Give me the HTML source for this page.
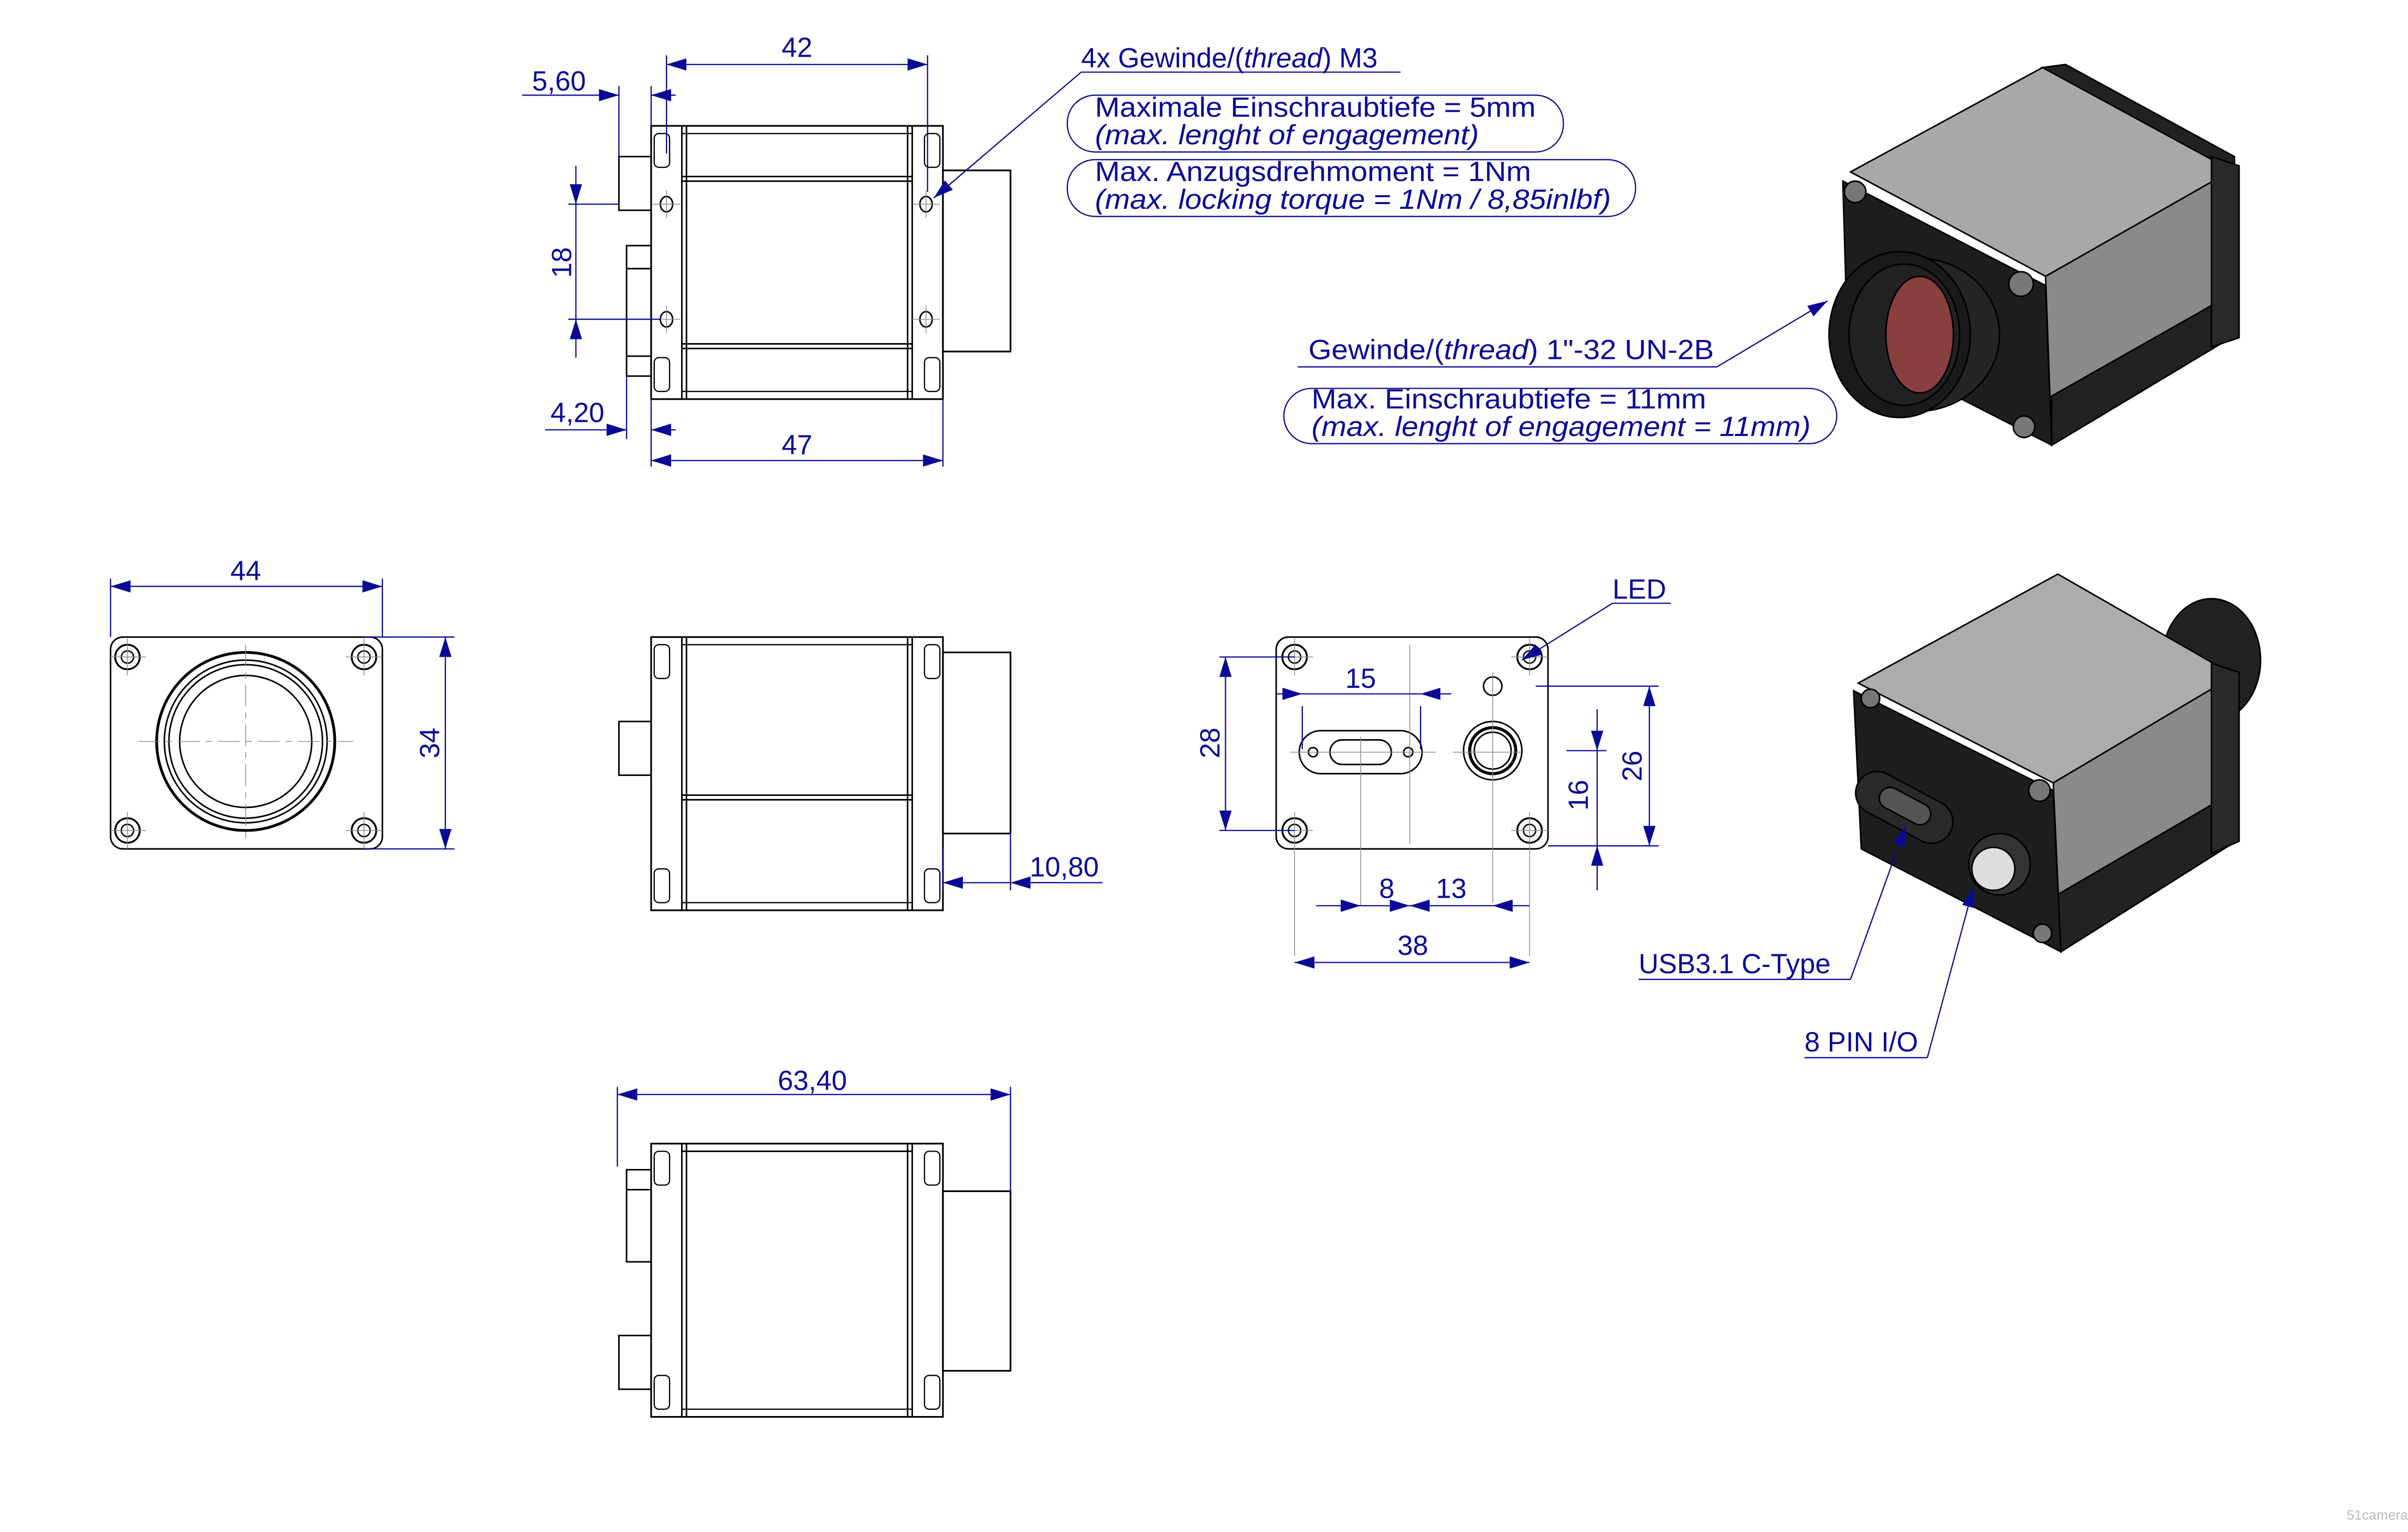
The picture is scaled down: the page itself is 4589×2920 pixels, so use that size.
<!DOCTYPE html>
<html><head><meta charset="utf-8"><style>
html,body{margin:0;padding:0;background:#fff;}
svg{display:block;}
text{font-family:"Liberation Sans",sans-serif;fill:#0a0a96;}
</style></head><body>
<svg width="4589" height="2920" viewBox="0 0 1568 998" preserveAspectRatio="none" xmlns="http://www.w3.org/2000/svg">
<defs>
<marker id="a" markerUnits="userSpaceOnUse" markerWidth="14" markerHeight="8" refX="13" refY="4" orient="auto-start-reverse"><path d="M0,0 L13,4 L0,8 z" fill="#0a0a96"/></marker>
<g id="side">
 <rect x="424" y="0" width="190" height="178" fill="none" stroke="#000" stroke-width="1.1"/>
 <line x1="444" y1="0" x2="444" y2="178" stroke="#000"/>
 <line x1="447" y1="0" x2="447" y2="178" stroke="#000"/>
 <line x1="591" y1="0" x2="591" y2="178" stroke="#000"/>
 <line x1="594" y1="0" x2="594" y2="178" stroke="#000"/>
 <line x1="444" y1="5" x2="594" y2="5" stroke="#000" stroke-width="0.8"/>
 <line x1="444" y1="173" x2="594" y2="173" stroke="#000" stroke-width="0.8"/>
 <rect x="426" y="5" width="10" height="22" rx="3" fill="none" stroke="#000" stroke-width="0.8"/>
 <rect x="426" y="151" width="10" height="22" rx="3" fill="none" stroke="#000" stroke-width="0.8"/>
 <rect x="602" y="5" width="10" height="22" rx="3" fill="none" stroke="#000" stroke-width="0.8"/>
 <rect x="602" y="151" width="10" height="22" rx="3" fill="none" stroke="#000" stroke-width="0.8"/>
</g>
<g id="screw"><circle r="8" fill="none" stroke="#000" stroke-width="1.2"/><circle r="4" fill="none" stroke="#000" stroke-width="0.9"/><path d="M-12,0H12M0,-12V12" stroke="#888" stroke-width="0.5"/></g>
</defs>
<g stroke="#000" fill="none" stroke-width="1">
<!-- top side view -->
<use href="#side" y="82"/>
<rect x="614" y="111" width="44" height="118" stroke-width="1.1"/>
<line x1="444" y1="115" x2="594" y2="115"/><line x1="444" y1="118" x2="594" y2="118"/>
<line x1="444" y1="224" x2="594" y2="224"/><line x1="444" y1="227" x2="594" y2="227"/>
<rect x="403" y="102" width="21" height="35"/>
<rect x="408" y="160" width="16" height="85"/>
<line x1="408" y1="175" x2="424" y2="175"/><line x1="408" y1="232" x2="424" y2="232"/>
<ellipse cx="434" cy="133" rx="4" ry="5"/><ellipse cx="434" cy="208" rx="4" ry="5"/>
<ellipse cx="603" cy="133" rx="4" ry="5"/><ellipse cx="603" cy="208" rx="4" ry="5"/>
<path d="M425,133h18M434,124v18M425,208h18M434,199v18M594,133h18M603,124v18M594,208h18M603,199v18" stroke="#888" stroke-width="0.5"/>
<!-- middle side view -->
<use href="#side" y="415"/>
<rect x="614" y="425" width="44" height="118" stroke-width="1.1"/>
<line x1="444" y1="518" x2="594" y2="518"/><line x1="444" y1="521" x2="594" y2="521"/>
<rect x="403" y="470" width="21" height="35"/>
<!-- bottom view -->
<use href="#side" y="745"/>
<rect x="614" y="776" width="44" height="117" stroke-width="1.1"/>
<line x1="444" y1="750" x2="594" y2="750"/>
<rect x="408" y="762" width="16" height="60"/><line x1="408" y1="775" x2="424" y2="775"/>
<rect x="403" y="870" width="21" height="35"/>
<!-- front view -->
<rect x="72" y="415" width="177" height="138" rx="8"/>
<use href="#screw" x="83" y="428"/><use href="#screw" x="237" y="428"/><use href="#screw" x="83" y="541"/><use href="#screw" x="237" y="541"/>
<circle cx="160" cy="483" r="58" stroke-width="1.8"/><circle cx="160" cy="483" r="53"/><circle cx="160" cy="483" r="50"/><circle cx="160" cy="483" r="43"/>
<path d="M90,483h140M160,420v126" stroke="#888" stroke-width="0.5" stroke-dasharray="14,4,4,4"/>
<!-- back view -->
<rect x="831" y="415" width="177" height="138" rx="8"/>
<use href="#screw" x="843" y="428"/><use href="#screw" x="996" y="428"/><use href="#screw" x="843" y="541"/><use href="#screw" x="996" y="541"/>
<circle cx="972" cy="447" r="6"/>
<rect x="846" y="476" width="80" height="28" rx="14"/>
<rect x="866" y="482" width="40" height="16" rx="8"/>
<circle cx="855" cy="490" r="3"/><circle cx="917" cy="490" r="3"/>
<circle cx="972" cy="489" r="19"/><circle cx="972" cy="489" r="15" stroke-width="2"/><circle cx="972" cy="489" r="12"/>
<path d="M840,490h95M946,490h44M886,480v110M918,420v130M972,438v150M843,553v70M996,553v70" stroke="#888" stroke-width="0.5"/>
</g>
<!-- 3D renders -->
<g stroke="#000" stroke-width="1">
<polygon points="1205,112 1330,44 1455,110 1332,180" fill="#a8a8a8"/>
<polygon points="1332,180 1455,110 1456,218 1336,290" fill="#8a8a8a"/>
<polygon points="1200,118 1332,186 1336,290 1203,222" fill="#1e1e1e"/>
<polygon points="1336,258 1456,190 1456,218 1336,290" fill="#222"/>
<polygon points="1330,44 1345,42 1455,102 1455,112" fill="#222"/>
<polygon points="1440,102 1458,108 1458,220 1440,226" fill="#2a2a2a"/>
<ellipse cx="1248" cy="218" rx="54" ry="50" fill="#252525"/>
<ellipse cx="1237" cy="218" rx="46" ry="54" fill="#1a1a1a"/>
<ellipse cx="1240" cy="218" rx="36" ry="46" fill="#222"/>
<ellipse cx="1250" cy="218" rx="22" ry="38" fill="#8a3f3f"/>
<circle cx="1208" cy="125" r="7" fill="#777"/><circle cx="1316" cy="185" r="8" fill="#777"/><circle cx="1318" cy="278" r="7" fill="#777"/>

<ellipse cx="1440" cy="430" rx="32" ry="40" fill="#222"/>
<polygon points="1210,445 1340,374 1455,440 1337,510" fill="#acacac"/>
<polygon points="1337,510 1455,440 1456,548 1342,620" fill="#8a8a8a"/>
<polygon points="1336,585 1456,515 1456,548 1342,620" fill="#222"/>
<polygon points="1440,432 1458,438 1458,548 1440,556" fill="#2a2a2a"/>
<polygon points="1207,450 1337,515 1342,620 1212,553" fill="#1e1e1e"/>
<rect x="1206" y="512" width="68" height="28" rx="14" fill="#2a2a2a" transform="rotate(28 1240 526)"/>
<rect x="1222" y="518" width="36" height="14" rx="7" fill="#555" transform="rotate(28 1240 526)"/>
<circle cx="1302" cy="563" r="20" fill="#333"/>
<circle cx="1298" cy="566" r="14" fill="#ddd"/>
<circle cx="1218" cy="455" r="6" fill="#777"/><circle cx="1328" cy="515" r="7" fill="#777"/><circle cx="1330" cy="608" r="6" fill="#777"/>
</g>
<!-- dimensions (blue) -->
<g stroke="#0a0a96" stroke-width="0.8" fill="none">
<path d="M434,36V100M604,36V125"/><line x1="434" y1="42" x2="604" y2="42" marker-start="url(#a)" marker-end="url(#a)"/>
<path d="M403,56V102M424,56V82"/><line x1="340" y1="62" x2="403" y2="62" marker-end="url(#a)"/><line x1="440" y1="62" x2="424" y2="62" marker-end="url(#a)"/>
<path d="M370,133H403M370,208H430"/><line x1="375" y1="108" x2="375" y2="133" marker-end="url(#a)"/><line x1="375" y1="233" x2="375" y2="208" marker-end="url(#a)"/><line x1="375" y1="133" x2="375" y2="208"/>
<path d="M408,245V286M424,260V304M614,260V304"/><line x1="355" y1="280" x2="408" y2="280" marker-end="url(#a)"/><line x1="440" y1="280" x2="424" y2="280" marker-end="url(#a)"/>
<line x1="424" y1="300" x2="614" y2="300" marker-start="url(#a)" marker-end="url(#a)"/>
<path d="M72,377V415M249,377V415"/><line x1="72" y1="382" x2="249" y2="382" marker-start="url(#a)" marker-end="url(#a)"/>
<path d="M237,415H296M237,553H296"/><line x1="290" y1="415" x2="290" y2="553" marker-start="url(#a)" marker-end="url(#a)"/>
<path d="M614,553V580M658,543V580"/><line x1="614" y1="575" x2="718" y2="575" marker-start="url(#a)"/><line x1="690" y1="575" x2="658" y2="575" marker-end="url(#a)"/>
<path d="M402,708V760M658,708V776"/><line x1="402" y1="713" x2="658" y2="713" marker-start="url(#a)" marker-end="url(#a)"/>
<path d="M794,428H843M794,541H843"/><line x1="798" y1="428" x2="798" y2="541" marker-start="url(#a)" marker-end="url(#a)"/>
<path d="M848,460V488M925,460V488"/><line x1="831" y1="452" x2="848" y2="452" marker-end="url(#a)"/><line x1="945" y1="452" x2="925" y2="452" marker-end="url(#a)"/><line x1="848" y1="452" x2="925" y2="452"/>
<path d="M1000,447H1080M1008,551H1080M1020,489H1046"/><line x1="1074" y1="447" x2="1074" y2="551" marker-start="url(#a)" marker-end="url(#a)"/>
<line x1="1040" y1="462" x2="1040" y2="489" marker-end="url(#a)"/><line x1="1040" y1="580" x2="1040" y2="551" marker-end="url(#a)"/><line x1="1040" y1="489" x2="1040" y2="551"/>
<line x1="857" y1="590" x2="886" y2="590" marker-end="url(#a)"/><line x1="886" y1="590" x2="918" y2="590" marker-end="url(#a)"/><line x1="918" y1="590" x2="972" y2="590" marker-start="url(#a)"/><line x1="996" y1="590" x2="972" y2="590" marker-end="url(#a)"/>
<line x1="843" y1="627" x2="996" y2="627" marker-start="url(#a)" marker-end="url(#a)"/>
<path d="M704,47H912"/><line x1="704" y1="47" x2="608" y2="129" marker-end="url(#a)"/>
<path d="M1050,393H1088"/><line x1="1050" y1="393" x2="991" y2="430" marker-end="url(#a)"/>
<path d="M845,239H1118"/><line x1="1118" y1="239" x2="1190" y2="196" marker-end="url(#a)"/>
<path d="M1067,638H1205"/><line x1="1205" y1="638" x2="1241" y2="538" marker-end="url(#a)"/>
<path d="M1175,689H1255"/><line x1="1255" y1="689" x2="1285" y2="578" marker-end="url(#a)"/>
<rect x="695" y="62" width="323" height="37" rx="18"/>
<rect x="695" y="104" width="370" height="37" rx="18"/>
<rect x="836" y="253" width="360" height="36" rx="18"/>
</g>
<g font-size="18">
<text x="519" y="37" text-anchor="middle">42</text>
<text x="364" y="59" text-anchor="middle">5,60</text>
<text x="0" y="0" transform="translate(372,171) rotate(-90)" text-anchor="middle">18</text>
<text x="376" y="275" text-anchor="middle">4,20</text>
<text x="519" y="296" text-anchor="middle">47</text>
<text x="160" y="378" text-anchor="middle">44</text>
<text x="0" y="0" transform="translate(286,484) rotate(-90)" text-anchor="middle">34</text>
<text x="693" y="571" text-anchor="middle">10,80</text>
<text x="529" y="710" text-anchor="middle">63,40</text>
<text x="0" y="0" transform="translate(794,484) rotate(-90)" text-anchor="middle">28</text>
<text x="886" y="448" text-anchor="middle">15</text>
<text x="0" y="0" transform="translate(1069,499) rotate(-90)" text-anchor="middle">26</text>
<text x="0" y="0" transform="translate(1034,518) rotate(-90)" text-anchor="middle">16</text>
<text x="903" y="585" text-anchor="middle">8</text>
<text x="945" y="585" text-anchor="middle">13</text>
<text x="920" y="622" text-anchor="middle">38</text>
<text x="1050" y="390">LED</text>
<text x="704" y="44">4x Gewinde/(<tspan font-style="italic">thread</tspan>) M3</text>
<text x="713" y="76" textLength="287" lengthAdjust="spacingAndGlyphs">Maximale Einschraubtiefe = 5mm</text>
<text x="713" y="94" font-style="italic" textLength="250" lengthAdjust="spacingAndGlyphs">(max. lenght of engagement)</text>
<text x="713" y="118" textLength="284" lengthAdjust="spacingAndGlyphs">Max. Anzugsdrehmoment = 1Nm</text>
<text x="713" y="136" font-style="italic" textLength="336" lengthAdjust="spacingAndGlyphs">(max. locking torque = 1Nm / 8,85inlbf)</text>
<text x="852" y="234" textLength="264" lengthAdjust="spacingAndGlyphs">Gewinde/(<tspan font-style="italic">thread</tspan>) 1"-32 UN-2B</text>
<text x="854" y="266" textLength="257" lengthAdjust="spacingAndGlyphs">Max. Einschraubtiefe = 11mm</text>
<text x="854" y="284" font-style="italic" textLength="325" lengthAdjust="spacingAndGlyphs">(max. lenght of engagement = 11mm)</text>
<text x="1067" y="634">USB3.1 C-Type</text>
<text x="1175" y="685">8 PIN I/O</text>
</g>
<text x="1528" y="990" font-size="9" style="fill:#bbb">51camera</text>
</svg>
</body></html>
